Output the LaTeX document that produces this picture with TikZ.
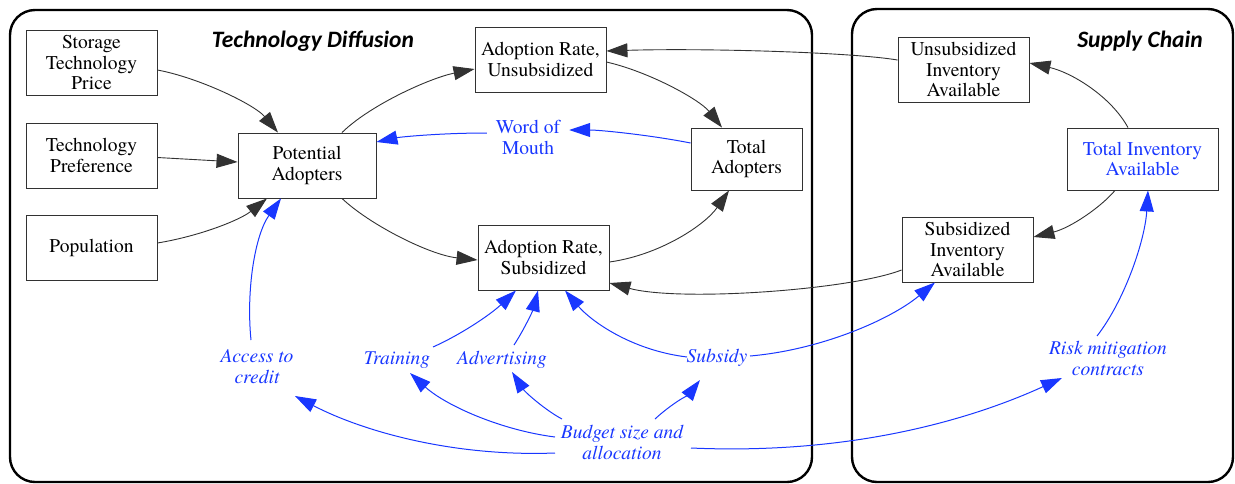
\documentclass[tikz,border=0pt]{standalone}
\usepackage{fontspec}
\setmainfont{texgyretermes}[Extension=.otf,UprightFont=*-regular,ItalicFont=*-italic,BoldFont=*-bold,BoldItalicFont=*-bolditalic]
\newfontfamily\titlefont{Carlito}
\usetikzlibrary{arrows.meta,calc}
\definecolor{dblue}{RGB}{25,55,255}
\definecolor{dgray}{RGB}{50,50,50}
\begin{document}
\begin{tikzpicture}[x=1pt,y=1pt,
  box/.style={draw=dgray,line width=0.9pt,align=center,inner sep=0pt,
    font=\fontsize{19.5}{20.5}\selectfont,minimum width=131pt,minimum height=65pt},
  lab/.style={align=center,text=dblue,inner sep=0pt,font=\fontsize{19.5}{21}\selectfont\itshape},
  frame/.style={draw=black,line width=2.4pt,rounded corners=25pt},
  ttl/.style={font=\titlefont\fontsize{23.5}{25}\selectfont\bfseries\itshape},
  blk/.style={draw=dgray,line width=0.9pt,-{Triangle[length=21pt,width=14pt]}},
  blu/.style={draw=dblue,line width=1pt,-{Triangle[length=21pt,width=14pt]}}]
\useasboundingbox (0,0) rectangle (1235,-483);
% frames
\draw[frame] (10,-10) rectangle (812,-482);
\draw[frame] (852,-9) rectangle (1233,-482);
\node[ttl] (td) at (313,-41) {Technology Diffusion};
\node[ttl] (sc) at (1140,-41) {Supply Chain};
% boxes
\node[box] (stp) at (91.5,-63) {Storage\\Technology\\Price};
\node[box] (tpr) at (91.5,-155.5) {Technology\\Preference};
\node[box] (pop) at (91.5,-247.5) {Population};
\node[box,minimum width=138pt] (pa) at (307,-165.5) {Potential\\Adopters};
\node[box] (aru) at (540.5,-59.5) {Adoption Rate,\\Unsubsidized};
\node[box,minimum width=111pt,minimum height=62pt] (ta) at (746.5,-159) {Total\\Adopters};
\node[box] (ars) at (543.5,-257.5) {Adoption Rate,\\Subsidized};
\node[box] (ui) at (963.5,-69.5) {Unsubsidized\\Inventory\\Available};
\node[box,minimum width=151pt,minimum height=62pt,text=dblue] (ti) at (1142.5,-159) {Total Inventory\\Available};
\node[box] (si) at (967.5,-249.5) {Subsidized\\Inventory\\Available};
% blue labels
\node[lab,font=\fontsize{19.5}{21}\selectfont,inner xsep=9pt] (wom) at (528,-137) {Word of\\Mouth};
\node[lab] (acc) at (257,-367) {Access to\\credit};
\node[lab] (trn) at (397,-360) {Training};
\node[lab] (adv) at (502,-360) {Advertising};
\node[lab] (sub) at (717,-358) {Subsidy};
\node[lab] (bud) at (622,-442) {Budget size and\\allocation};
\node[lab] (risk) at (1108,-358) {Risk mitigation\\contracts};
% black connectors
\draw[blk] ([yshift=-7]stp.east) .. controls (200,-78) and (255,-105) .. ([xshift=-29]pa.north);
\draw[blk] ([yshift=-2]tpr.east) -- ([yshift=3.5]pa.west);
\draw[blk] ([yshift=4.5]pop.east) .. controls (200,-236) and (240,-220) .. ([xshift=-40]pa.south);
\draw[blk] ([xshift=35]pa.north) .. controls (370,-105) and (430,-78) .. ([yshift=-9.5]aru.west);
\draw[blk] ([yshift=-2.5]aru.east) .. controls (650,-72) and (700,-100) .. ([xshift=-24.5]ta.north);
\draw[blk] ([xshift=35]pa.south) .. controls (370,-225) and (430,-255) .. ([yshift=-2.5]ars.west);
\draw[blk] ([yshift=-4.5]ars.east) .. controls (660,-255) and (705,-225) .. ([xshift=-17.5]ta.south);
\draw[blk] ([yshift=9.5]ui.west) .. controls (850,-52) and (700,-48) .. ([yshift=8.5]aru.east);
\draw[blk] ([yshift=-20.5]si.west) .. controls (850,-290) and (680,-302) .. ([yshift=-25.5]ars.east);
\draw[blk] ([xshift=-14.5]ti.north) .. controls (1110,-95) and (1070,-72) .. ([yshift=6.5]ui.east);
\draw[blk] ([xshift=-27.5]ti.south) .. controls (1100,-208) and (1070,-228) .. ([yshift=12.5]si.east);
% blue connectors
\draw[blu] ([yshift=16]ta.west) .. controls (650,-135) and (600,-130) .. ([yshift=7]wom.east);
\draw[blu] ([yshift=4]wom.west) .. controls (440,-133) and (400,-137) .. ([yshift=23.5]pa.east);
\draw[blu] ($(acc)+(-6,27)$) .. controls (246,-290) and (255,-235) .. ([xshift=-26]pa.south);
\draw[blu] ($(trn)+(36,13)$) .. controls (460,-335) and (490,-315) .. ([xshift=-27.5]ars.south);
\draw[blu] ($(adv)+(12,15)$) .. controls (525,-328) and (533,-310) .. ([xshift=-5.5]ars.south);
\draw[blu] ($(sub)+(-30,1)$) .. controls (630,-350) and (590,-320) .. ([xshift=21.5]ars.south);
\draw[blu] ($(sub)+(33,2)$) .. controls (820,-350) and (890,-320) .. ([xshift=-32.5]si.south);
\draw[blu] ($(risk)+(-11,22)$) .. controls (1125,-300) and (1145,-240) .. ([xshift=5.5]ti.south);
\draw[blu] ($(bud)+(-67,-11)$) .. controls (450,-457) and (360,-430) .. ($(acc)+(38,-29)$);
\draw[blu] ($(bud)+(-67,5)$) .. controls (500,-430) and (445,-405) .. ($(trn)+(13,-13)$);
\draw[blu] ($(bud)+(-60,23)$) .. controls (545,-410) and (525,-392) .. ($(adv)+(10,-12)$);
\draw[blu] ($(bud)+(33,23)$) .. controls (670,-405) and (690,-393) .. ($(sub)+(-17,-22)$);
\draw[blu] ($(bud)+(69,-6)$) .. controls (850,-455) and (970,-420) .. ($(risk)+(-46,-20)$);
\end{tikzpicture}
\end{document}
